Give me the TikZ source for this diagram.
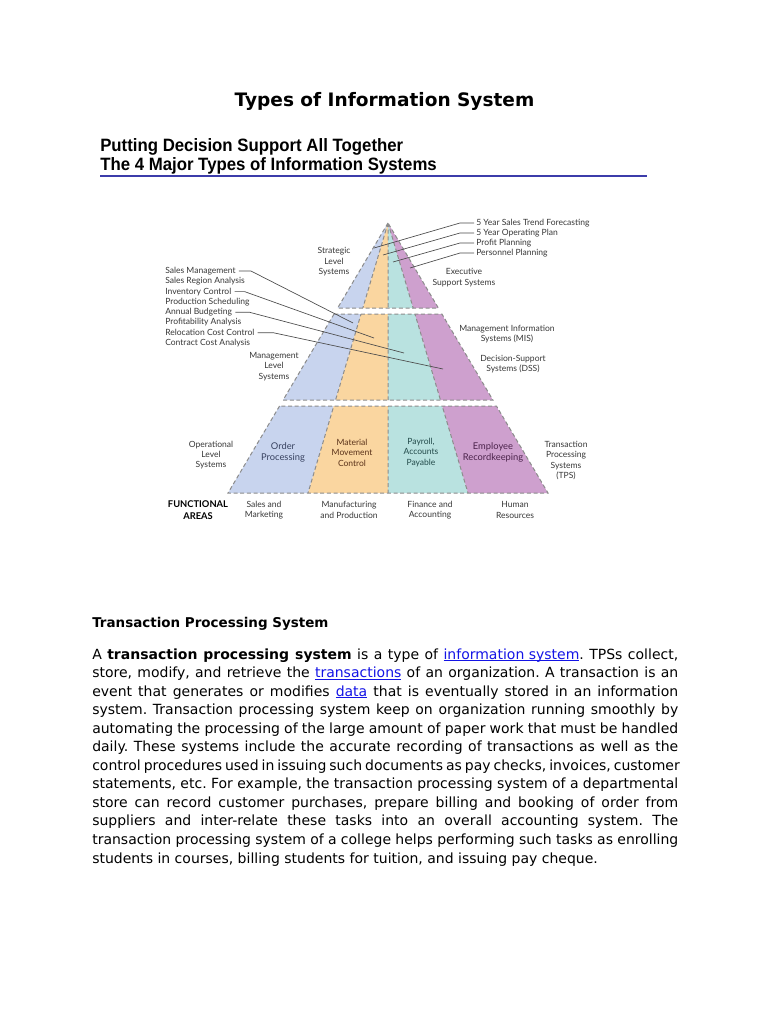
\documentclass[tikz,border=0pt]{standalone}
\usepackage{fontspec}
\setmainfont{DejaVu Sans}
\newfontfamily\gillfont{Lato}
\newfontfamily\headfont[FakeStretch=0.94]{Liberation Sans}
\usetikzlibrary{calc}
\definecolor{wblue}{RGB}{200,212,238}
\definecolor{wora}{RGB}{250,214,160}
\definecolor{wteal}{RGB}{185,226,224}
\definecolor{wpurp}{RGB}{206,160,206}
\definecolor{rulecol}{RGB}{60,60,170}
\definecolor{linkblue}{RGB}{20,20,230}
\newcommand\lnk[1]{\textcolor{linkblue}{\setbox0\hbox{#1}\rlap{\rule[-1.4pt]{\wd0}{0.5pt}}\box0}}
\frenchspacing
\tikzset{dgm/.style={font=\gillfont\fontsize{6.4}{7.8}\selectfont, text=black!78, inner sep=0pt},
         lead/.style={draw=black!70, line width=0.5pt},
         cut/.style={draw=black!45, dash pattern=on 3pt off 2pt, line width=0.75pt},
         txt/.style={font=\fontsize{10.5}{13.9}\selectfont, inner sep=0pt, anchor=base west}}

\begin{document}
\begin{tikzpicture}[x=0.75pt, y=-0.75pt]
  \useasboundingbox[fill=white] (0,0) rectangle (768,1024);

  % ---------- titles ----------
  \node[font=\bfseries\fontsize{13.9}{16}\selectfont] (title) at (384.5,101) {Types of Information System};
  \node[anchor=west, inner sep=0pt, font=\headfont\bfseries\fontsize{13.4}{15}\selectfont] (sub1) at (100,147) {Putting Decision Support All Together};
  \node[anchor=west, inner sep=0pt, font=\headfont\bfseries\fontsize{13.4}{15}\selectfont] (sub2) at (100,166) {The 4 Major Types of Information Systems};
  \coordinate (rl) at (100,176);
  \coordinate (rr) at (647,176);
  \draw[rulecol, line width=1.5pt] (rl) -- (rr);

  % ---------- the pyramid: three tiers cut from one triangle ----------
  \coordinate (apex) at (388,223);
  \coordinate (bl) at (228,493);
  \coordinate (br) at (548,493);
  \foreach \ya/\yb in {223/308, 314/400, 406/493} {
    \pgfmathsetmacro\ta{(\ya-223)/270}
    \pgfmathsetmacro\tb{(\yb-223)/270}
    \begin{scope}
      \clip ($(apex)!\ta!(bl)$) -- ($(apex)!\tb!(bl)$) -- ($(apex)!\tb!(br)$) -- ($(apex)!\ta!(br)$) -- cycle;
      \fill[wblue]  (apex) -- (bl) -- (308,493) -- cycle;
      \fill[wora]   (apex) -- (308,493) -- (388,493) -- cycle;
      \fill[wteal]  (apex) -- (388,493) -- (468,493) -- cycle;
      \fill[wpurp]  (apex) -- (468,493) -- (br) -- cycle;
      \draw[cut] (apex) -- (308,493) (apex) -- (388,493) (apex) -- (468,493);
    \end{scope}
    \draw[cut] ($(apex)!\ta!(bl)$) -- ($(apex)!\tb!(bl)$) -- ($(apex)!\tb!(br)$) -- ($(apex)!\ta!(br)$) -- cycle;
  }

  % ---------- tier names ----------
  \node[dgm, align=center] (strat) at (334,262) {Strategic\\Level\\Systems};
  \node[dgm, align=center] (ess)   at (464,277.5) {Executive\\Support Systems};
  \node[dgm, align=center] (mis)   at (507,334) {Management Information\\Systems (MIS)};
  \node[dgm, align=center] (dss)   at (513,364) {Decision-Support\\Systems (DSS)};
  \node[dgm, align=center] (mgmt)  at (274,366.5) {Management\\Level\\Systems};
  \node[dgm, align=center] (oper)  at (211,455) {Operational\\Level\\Systems};
  \node[dgm, align=center] (tps)   at (566,460.5) {Transaction\\Processing\\Systems\\(TPS)};

  % ---------- the bottom tier blocks ----------
  \node[dgm, align=center, font=\gillfont\fontsize{7}{8.2}\selectfont, text={rgb,255:red,55;green,65;blue,95}] (ordp) at (283,452.5) {Order\\Processing};
  \node[dgm, align=center, text={rgb,255:red,90;green,50;blue,25}] (matm) at (352,452.5) {Material\\Movement\\Control};
  \node[dgm, align=center, text={rgb,255:red,35;green,75;blue,75}] (payr) at (421,452.5) {Payroll,\\Accounts\\Payable};
  \node[dgm, align=center, font=\gillfont\fontsize{7}{8.2}\selectfont, text={rgb,255:red,75;green,35;blue,75}] (empr) at (493,452.5) {Employee\\Recordkeeping};

  % ---------- functional areas ----------
  \node[dgm, align=center, text=black, font=\gillfont\bfseries\fontsize{7}{8.6}\selectfont] (fa) at (198,510) {FUNCTIONAL\\AREAS};
  \node[dgm, align=center] (smk) at (264,510) {Sales and\\Marketing};
  \node[dgm, align=center] (mfp) at (349,510) {Manufacturing\\and Production};
  \node[dgm, align=center] (fac) at (430,510) {Finance and\\Accounting};
  \node[dgm, align=center] (hrs) at (515,510) {Human\\Resources};

  % ---------- top right examples ----------
  \node[dgm, anchor=west] (fcst) at (476,223) {5 Year Sales Trend Forecasting};
  \node[dgm, anchor=west] (oplan) at (476,233) {5 Year Operating Plan};
  \node[dgm, anchor=west] (prof) at (476,243) {Profit Planning};
  \node[dgm, anchor=west] (pers) at (476,253) {Personnel Planning};
  \coordinate (fcstp) at (374,248);
  \coordinate (oplanp) at (383,255);
  \coordinate (profp) at (393,262);
  \coordinate (persp) at (410,268);
  \draw[lead] ($(fcst.west)+(-2,0)$) -- ++(-14,0) -- (fcstp);
  \draw[lead] ($(oplan.west)+(-2,0)$) -- ++(-14,0) -- (oplanp);
  \draw[lead] ($(prof.west)+(-2,0)$) -- ++(-14,0) -- (profp);
  \draw[lead] ($(pers.west)+(-2,0)$) -- ++(-14,0) -- (persp);

  % ---------- left examples ----------
  \node[dgm, anchor=west] (smgt) at (165,271) {Sales Management};
  \node[dgm, anchor=west] (sreg) at (165,281.3) {Sales Region Analysis};
  \node[dgm, anchor=west] (invc) at (165,291.6) {Inventory Control};
  \node[dgm, anchor=west] (prsc) at (165,301.9) {Production Scheduling};
  \node[dgm, anchor=west] (abud) at (165,312.2) {Annual Budgeting};
  \node[dgm, anchor=west] (pana) at (165,322.5) {Profitability Analysis};
  \node[dgm, anchor=west] (rcc)  at (165,332.8) {Relocation Cost Control};
  \node[dgm, anchor=west] (cca)  at (165,343.1) {Contract Cost Analysis};
  \coordinate (smgtp) at (353,323);
  \coordinate (invcp) at (374,338);
  \coordinate (abudp) at (404,353);
  \coordinate (rccp)  at (443,369);
  \draw[lead] ($(smgt.east)+(3,0)$) -- ++(12,0) -- (smgtp);
  \draw[lead] ($(invc.east)+(3,0)$) -- ++(10,0) -- (invcp);
  \draw[lead] ($(abud.east)+(3,0)$) -- ++(14,0) -- (abudp);
  \draw[lead] ($(rcc.east)+(3,0)$) -- ++(16,0) -- (rccp);

  % ---------- text below ----------
  \node[txt, font=\bfseries\fontsize{10.1}{13.9}\selectfont] (tpsh) at (92,627) {Transaction Processing System};
  \foreach \t [count=\i] in {
      {A \textbf{transaction processing system} is a type of \lnk{information system}. TPSs collect,},
      {store, modify, and retrieve the \lnk{transactions} of an organization. A transaction is an},
      {event that generates or modifies \lnk{data} that is eventually stored in an information},
      {system. Transaction processing system keep on organization running smoothly by},
      {automating the processing of the large amount of paper work that must be handled},
      {daily. These systems include the accurate recording of transactions as well as the},
      {control procedures used in issuing such documents as pay checks, invoices, customer},
      {statements, etc. For example, the transaction processing system of a departmental},
      {store can record customer purchases, prepare billing and booking of order from},
      {suppliers and inter-relate these tasks into an overall accounting system. The},
      {transaction processing system of a college helps performing such tasks as enrolling}}
    \node[txt] (body\i) at (92,{659+18.55*(\i-1)}) {\makebox[439.5pt][s]{\t}};
  \node[txt] (body12) at (92,863) {students in courses, billing students for tuition, and issuing pay cheque.};

\end{tikzpicture}
\end{document}
